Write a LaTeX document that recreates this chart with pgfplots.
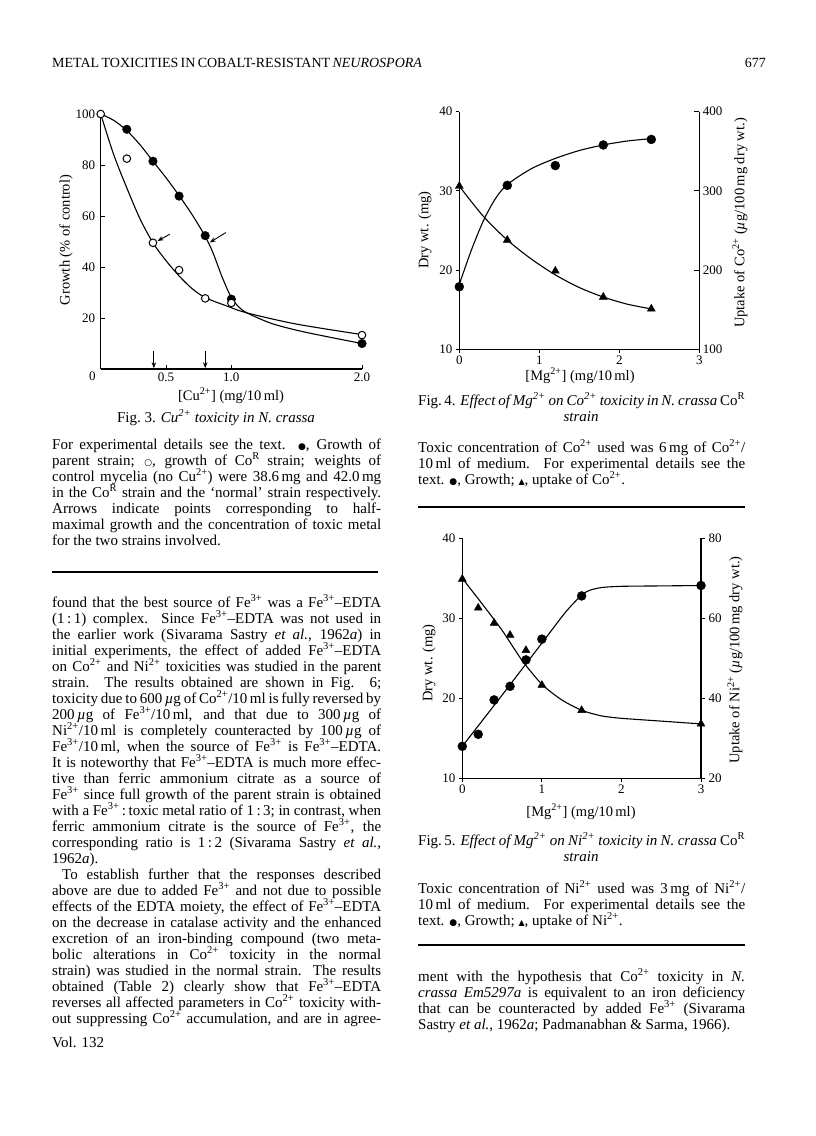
\documentclass[border=0pt]{standalone}
\usepackage{fontspec}
\setmainfont{Liberation Serif}
\newfontfamily\sym{DejaVu Sans}
\usepackage{pgfplots}
\pgfplotsset{compat=1.18}
\usetikzlibrary{arrows.meta}

\newcommand\tf{\fontsize{15}{16}\selectfont}
\newcommand\lf{\fontsize{14.5}{15}\selectfont}
\newcommand\sups[1]{\textsuperscript{#1}}
\newcommand\blk{{\sym\fontsize{9}{9}\selectfont ●}}
\newcommand\wht{{\sym\fontsize{9}{9}\selectfont ○}}
\newcommand\tri{{\sym\fontsize{8}{8}\selectfont ▲}}
\newcommand\muu{\textit{µ}}
\newcommand\JL[2]{\node[anchor=base west,inner sep=0pt,font=\tf] at (52pt,-#1pt) {\makebox[329pt][s]{#2}};}
\newcommand\LL[2]{\node[anchor=base west,inner sep=0pt,font=\tf] at (52pt,-#1pt) {#2};}
\newcommand\IL[2]{\node[anchor=base west,inner sep=0pt,font=\tf] at (62pt,-#1pt) {\makebox[319pt][s]{#2}};}
\newcommand\JR[2]{\node[anchor=base west,inner sep=0pt,font=\tf] at (418pt,-#1pt) {\makebox[327pt][s]{#2}};}
\newcommand\LR[2]{\node[anchor=base west,inner sep=0pt,font=\tf] at (418pt,-#1pt) {#2};}

\pgfplotsset{
  pagefig/.style={
    scale only axis, anchor=south west, clip=false,
    axis line style={line width=1.1pt,-},
    tick style={line width=1pt,black},
    major tick length=4pt,
    tick label style={font=\fontsize{13}{13}\selectfont},
    /pgf/number format/assume math mode=true,
  },
}

\begin{document}
\begin{tikzpicture}
\fill[white] (0,0) rectangle (816pt,-1136pt);
\path[use as bounding box] (0,0) rectangle (816pt,-1136pt);

% ---------------- header
\node[anchor=base west,inner sep=0pt,font=\fontsize{14}{15}\selectfont] at (52pt,-67pt)
  {\makebox[330pt][s]{METAL TOXICITIES IN COBALT-RESISTANT \textit{NEUROSPORA}}};
\node[anchor=base east,inner sep=0pt,font=\fontsize{14}{15}\selectfont] at (766pt,-67pt) {677};

% ---------------- Fig. 3
\begin{axis}[pagefig, at={(100.7pt,-369pt)}, width=261.3pt, height=255pt,
  xmin=0, xmax=2, ymin=0, ymax=100,
  axis x line*=bottom, axis y line*=left, tick align=inside,
  xtick={0.5,1,2}, xticklabels={0.5,1.0,2.0},
  ytick={20,40,60,80,100}, yticklabels={20,40,60,80,100},
  yticklabel style={xshift=-2pt}]
% fitted curves
\addplot[line width=1.1pt, smooth, tension=0.5] coordinates {
  (0,100) (0.1,97.5) (0.2,93.5) (0.3,88) (0.4,81.5) (0.5,75) (0.6,68)
  (0.7,60.5) (0.8,52) (0.86,45.5) (0.93,36) (1.0,28) (1.06,24.2) (1.12,22)
  (1.3,18) (1.5,15.2) (1.75,12.5) (2.0,10)};
\addplot[line width=1.1pt, smooth, tension=0.5] coordinates {
  (0,100) (0.1,84) (0.2,71) (0.3,59) (0.4,49.5) (0.5,42.5) (0.6,36.5)
  (0.7,31.5) (0.8,28) (0.95,25) (1.12,22) (1.5,17.6) (2.0,13.5)};
% parent strain (filled)
\addplot[only marks, mark=*, mark size=4.3pt] coordinates {
  (0.2,94) (0.4,81.5) (0.6,67.8) (0.8,52.3) (1.0,27.4) (2.0,10)};
% Co-R strain (open)
\addplot[only marks, mark=*, mark size=3.8pt, mark options={fill=white, line width=1pt}] coordinates {
  (0,100) (0.2,82.5) (0.4,49.5) (0.6,38.8) (0.8,27.7) (1.0,25.9) (2.0,13.3)};
\draw[-{Stealth[length=6pt,width=4.5pt]}, line width=0.9pt] (axis cs:0.53,52.9) -- (axis cs:0.435,50.2);
\draw[-{Stealth[length=6pt,width=4.5pt]}, line width=0.9pt] (axis cs:0.957,53.5) -- (axis cs:0.835,49.6);
\draw[-{Stealth[length=6pt,width=4.5pt]}, line width=0.9pt] (axis cs:0.407,7) -- (axis cs:0.407,0.3);
\draw[-{Stealth[length=6pt,width=4.5pt]}, line width=0.9pt] (axis cs:0.80,7) -- (axis cs:0.80,0.3);
\node[anchor=north east, font=\fontsize{13}{13}\selectfont, inner sep=2pt] at (axis cs:0,0) [xshift=-3pt,yshift=-1pt] {0};
\end{axis}
\node[rotate=90, font=\lf] at (66pt,-240pt) {Growth (\% of control)};
\node[anchor=base, font=\lf, inner sep=0pt] at (231pt,-400pt) {[Cu\sups{2+}] (mg/10\,ml)};
\node[anchor=base, font=\tf, inner sep=0pt] at (216pt,-422pt) {Fig.\ 3. \textit{Cu\sups{2+} toxicity in N. crassa}};

\JL{449}{For experimental details see the text. \blk, Growth of}
\JL{465}{parent strain; \wht, growth of Co\sups{R} strain; weights of}
\JL{481}{control mycelia (no Cu\sups{2+}) were 38.6\,mg and 42.0\,mg}
\JL{497}{in the Co\sups{R} strain and the ‘normal’ strain respectively.}
\JL{513}{Arrows indicate points corresponding to half-}
\JL{529}{maximal growth and the concentration of toxic metal}
\LL{545}{for the two strains involved.}
\draw[line width=1.3pt] (52pt,-572pt) -- (378pt,-572pt);

% ---------------- main text, left column
\JL{607}{found that the best source of Fe\sups{3+} was a Fe\sups{3+}–EDTA}
\JL{623}{(1\,:\,1) complex. Since Fe\sups{3+}–EDTA was not used in}
\JL{639}{the earlier work (Sivarama Sastry \textit{et al.}, 1962\textit{a}) in}
\JL{655}{initial experiments, the effect of added Fe\sups{3+}–EDTA}
\JL{671}{on Co\sups{2+} and Ni\sups{2+} toxicities was studied in the parent}
\JL{687}{strain. The results obtained are shown in Fig. 6;}
\JL{703}{toxicity due to 600\,\muu g of Co\sups{2+}/10\,ml is fully reversed by}
\JL{719}{200\,\muu g of Fe\sups{3+}/10\,ml, and that due to 300\,\muu g of}
\JL{735}{Ni\sups{2+}/10\,ml is completely counteracted by 100\,\muu g of}
\JL{751}{Fe\sups{3+}/10\,ml, when the source of Fe\sups{3+} is Fe\sups{3+}–EDTA.}
\JL{767}{It is noteworthy that Fe\sups{3+}–EDTA is much more effec-}
\JL{783}{tive than ferric ammonium citrate as a source of}
\JL{799}{Fe\sups{3+} since full growth of the parent strain is obtained}
\JL{815}{with a Fe\sups{3+}\,:\,toxic metal ratio of 1\,:\,3; in contrast, when}
\JL{831}{ferric ammonium citrate is the source of Fe\sups{3+}, the}
\JL{847}{corresponding ratio is 1\,:\,2 (Sivarama Sastry \textit{et al.},}
\LL{863}{1962\textit{a}).}
\IL{879}{To establish further that the responses described}
\JL{895}{above are due to added Fe\sups{3+} and not due to possible}
\JL{911}{effects of the EDTA moiety, the effect of Fe\sups{3+}–EDTA}
\JL{927}{on the decrease in catalase activity and the enhanced}
\JL{943}{excretion of an iron-binding compound (two meta-}
\JL{959}{bolic alterations in Co\sups{2+} toxicity in the normal}
\JL{975}{strain) was studied in the normal strain. The results}
\JL{991}{obtained (Table 2) clearly show that Fe\sups{3+}–EDTA}
\JL{1007}{reverses all affected parameters in Co\sups{2+} toxicity with-}
\JL{1023}{out suppressing Co\sups{2+} accumulation, and are in agree-}
\LL{1047}{Vol. 132}

% ---------------- Fig. 4
\begin{axis}[pagefig, at={(459.3pt,-349.3pt)}, width=240pt, height=237.6pt,
  xmin=0, xmax=3, ymin=10, ymax=40,
  axis x line*=bottom, axis y line*=left, tick align=outside, major tick length=3.5pt,
  xtick={0,1,2,3}, ytick={10,20,30,40}]
\addplot[line width=1.1pt, smooth, tension=0.5] coordinates {
  (0,18.2) (0.15,22.5) (0.3,26.2) (0.45,29) (0.6,30.8) (0.9,32.8) (1.2,34.1)
  (1.5,35.1) (1.8,35.8) (2.1,36.3) (2.4,36.6)};
\addplot[only marks, mark=*, mark size=4.5pt] coordinates {
  (0,17.9) (0.6,30.7) (1.2,33.2) (1.8,35.8) (2.4,36.5)};
\end{axis}
\begin{axis}[pagefig, at={(459.3pt,-349.3pt)}, width=240pt, height=237.6pt,
  xmin=0, xmax=3, ymin=100, ymax=400,
  axis x line=none, axis y line*=right, tick align=inside, major tick length=5pt,
  ytick={100,200,300,400}]
\addplot[line width=1.1pt, smooth, tension=0.5] coordinates {
  (0,306) (0.3,268) (0.6,238) (0.9,214) (1.2,194) (1.5,178) (1.8,166) (2.1,157) (2.4,151)};
\addplot[only marks, mark=triangle*, mark size=4.6pt] coordinates {
  (0,306) (0.6,238) (1.2,199) (1.8,166) (2.4,151)};
\end{axis}
\node[rotate=90, font=\lf] at (425pt,-230pt) {Dry wt. (mg)};
\node[rotate=90, font=\lf] at (740pt,-223pt) {Uptake of Co\sups{2+} (\muu g/100\,mg dry wt.)};
\node[anchor=base, font=\lf, inner sep=0pt] at (580pt,-380pt) {[Mg\sups{2+}] (mg/10\,ml)};

\JR{405}{Fig.\,4. \textit{Effect of Mg\sups{2+} on Co\sups{2+} toxicity in N. crassa} Co\sups{R}}
\node[anchor=base, font=\tf, inner sep=0pt] at (581pt,-421pt) {\textit{strain}};
\JR{452}{Toxic concentration of Co\sups{2+} used was 6\,mg of Co\sups{2+}/}
\JR{468}{10\,ml of medium. For experimental details see the}
\LR{484}{text. \blk, Growth; \tri, uptake of Co\sups{2+}.}
\draw[line width=1.3pt] (418pt,-507pt) -- (745pt,-507pt);

% ---------------- Fig. 5
\begin{axis}[pagefig, at={(462.3pt,-778.3pt)}, width=238.7pt, height=240pt,
  xmin=0, xmax=3, ymin=10, ymax=40,
  axis x line*=bottom, axis y line*=left, tick align=outside, major tick length=3.5pt,
  xtick={0,1,2,3}, ytick={10,20,30,40}]
\addplot[line width=1.1pt, smooth, tension=0.4] coordinates {
  (0,14) (0.5,20.4) (1.0,26.9) (1.3,30.8) (1.5,32.9) (1.6,33.5) (1.75,33.85)
  (2,34) (2.5,34.05) (3,34.1)};
\addplot[only marks, mark=*, mark size=4.5pt] coordinates {
  (0,14) (0.2,15.5) (0.4,19.8) (0.6,21.5) (0.8,24.8) (1.0,27.4) (1.5,32.8) (3.0,34.1)};
\end{axis}
\begin{axis}[pagefig, at={(462.3pt,-778.3pt)}, width=238.7pt, height=240pt,
  xmin=0, xmax=3, ymin=20, ymax=80,
  axis x line=none, axis y line*=right, tick align=outside, major tick length=4pt,
  ytick={20,40,60,80}]
\addplot[line width=1.1pt, smooth, tension=0.4] coordinates {
  (0,70) (0.25,63.6) (0.5,57) (0.75,49.5) (1.0,43.5) (1.25,39.6) (1.5,37)
  (1.75,35.6) (2,35) (2.5,34.3) (3,33.6)};
\addplot[only marks, mark=triangle*, mark size=4.6pt] coordinates {
  (0,69.8) (0.2,62.6) (0.4,58.8) (0.6,55.8) (0.8,52) (1.0,43.3) (1.5,37) (3.0,33.6)};
\end{axis}
\node[rotate=90, font=\lf] at (429pt,-663pt) {Dry wt. (mg)};
\node[rotate=90, font=\lf] at (735pt,-660pt) {Uptake of Ni\sups{2+} (\muu g/100\,mg dry wt.)};
\node[anchor=base, font=\lf, inner sep=0pt] at (581pt,-816pt) {[Mg\sups{2+}] (mg/10\,ml)};

\JR{845}{Fig.\,5. \textit{Effect of Mg\sups{2+} on Ni\sups{2+} toxicity in N. crassa} Co\sups{R}}
\node[anchor=base, font=\tf, inner sep=0pt] at (581pt,-861pt) {\textit{strain}};
\JR{893}{Toxic concentration of Ni\sups{2+} used was 3\,mg of Ni\sups{2+}/}
\JR{909}{10\,ml of medium. For experimental details see the}
\LR{925}{text. \blk, Growth; \tri, uptake of Ni\sups{2+}.}
\draw[line width=1.3pt] (418pt,-945pt) -- (745pt,-945pt);

\JR{981}{ment with the hypothesis that Co\sups{2+} toxicity in \textit{N.}}
\JR{997}{\textit{crassa Em5297a} is equivalent to an iron deficiency}
\JR{1013}{that can be counteracted by added Fe\sups{3+} (Sivarama}
\LR{1029}{Sastry \textit{et al.}, 1962\textit{a}; Padmanabhan \& Sarma, 1966).}
\end{tikzpicture}
\end{document}
